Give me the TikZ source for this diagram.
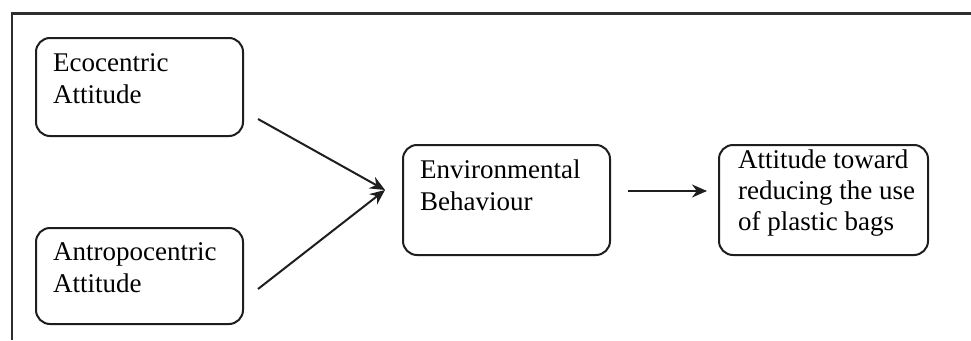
\documentclass[tikz,border=0pt]{standalone}
\usepackage{fontspec}
\setmainfont{Liberation Serif}
\usetikzlibrary{arrows.meta}
\definecolor{linec}{HTML}{1E1E1E}
\definecolor{framec}{HTML}{2E2E2E}
\tikzset{
  boxnode/.style={draw=linec, line width=2pt, rounded corners=14pt, inner sep=0pt},
  txt/.style={anchor=base west, inner sep=0pt, align=left, font=\fontsize{27}{32}\selectfont},
  arr/.style={draw=linec, line width=2pt, -{Stealth[length=15pt,width=13pt]}},
  framel/.style={draw=framec, line width=2.2pt}
}
\begin{document}
\begin{tikzpicture}[x=1pt,y=-1pt]
\useasboundingbox (0,0) rectangle (971,340);
\fill[white] (0,0) rectangle (971,340);
% frame
\coordinate (fbl) at (12,340);
\coordinate (ftl) at (12,13.5);
\coordinate (ftr) at (971,13.5);
\draw[framel] (fbl) -- (ftl) -- (ftr);
% boxes
\node[boxnode, minimum width=207pt, minimum height=98pt, anchor=north west] (eco) at (35,37) {};
\node[boxnode, minimum width=207pt, minimum height=96pt, anchor=north west] (antro) at (35,227) {};
\node[boxnode, minimum width=207pt, minimum height=110pt, anchor=north west] (env) at (402,144) {};
\node[boxnode, minimum width=209pt, minimum height=110pt, anchor=north west] (att) at (718,144) {};
% texts (base anchor = baseline of last line)
\node[txt] (ecot) at (53,103) {Ecocentric\\Attitude};
\node[txt] (antrot) at (53,292) {Antropocentric\\Attitude};
\node[txt] (envt) at (420,210) {Environmental\\Behaviour};
\node[txt, font=\fontsize{27}{31}\selectfont] (attt) at (738,230) {Attitude toward\\reducing the use\\of plastic bags};
% connectors
\coordinate (a1) at (258,119);
\coordinate (a2) at (258,289);
\coordinate (m) at (385,190);
\coordinate (b1) at (628,191);
\coordinate (b2) at (707,191);
\draw[arr] (a1) -- (m);
\draw[arr] (a2) -- (m);
\draw[arr] (b1) -- (b2);
\end{tikzpicture}
\end{document}
